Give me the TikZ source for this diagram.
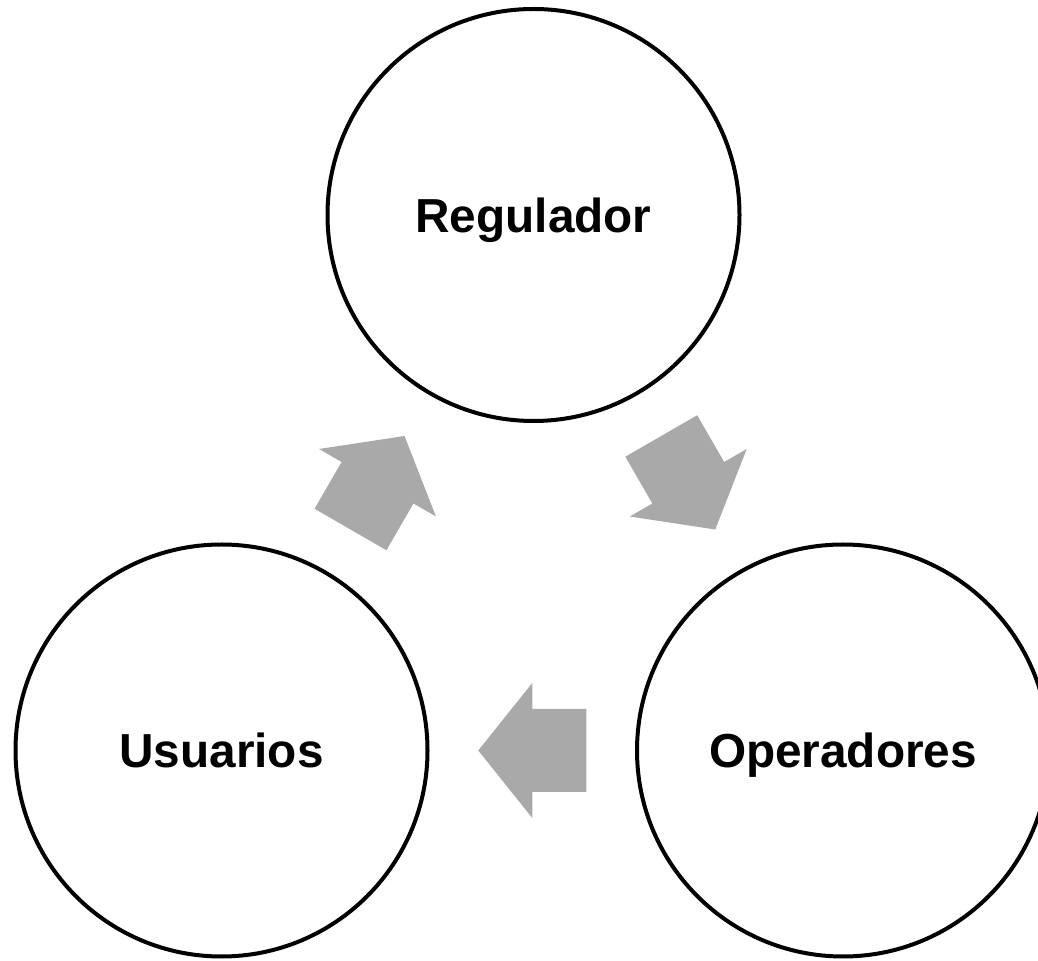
\documentclass[tikz,border=0pt]{standalone}
\usepackage{fontspec}
\setmainfont{Liberation Sans}
\usepackage{tikz}
\usepackage{xcolor}
\usetikzlibrary{calc}
\definecolor{grisflecha}{HTML}{A9A9A9}
\colorlet{bordecirculo}{black}
\tikzstyle{actor} = [
    circle,
    draw=bordecirculo,
    line width=3pt,
    minimum size=309pt,
    inner sep=0pt,
    text depth=0pt,
    font=\fontsize{35.8pt}{43pt}\selectfont\bfseries
    ]
\tikzset{flecha/.pic={% block arrow, pointing along +x
    \fill[grisflecha] (-54,-41.5) -- (0,-41.5) -- (0,-67.5) -- (54,0)
        -- (0,67.5) -- (0,41.5) -- (-54,41.5) -- cycle;
}}
\begin{document}
\begin{tikzpicture}[x=0.75pt,y=0.75pt]
\useasboundingbox (0,0) rectangle (1038,960);
\node [actor] (reg) at (533.5,745) {Regulador};
\node [actor] (usu) at (221.5,209.5) {Usuarios};
\node [actor] (ope) at (843,209.5) {Operadores};
% flechas del ciclo
\pic [rotate=60] at ($(usu)!0.5!(reg)$) {flecha};
\pic [rotate=-60] at ($(reg)!0.5!(ope)$) {flecha};
\pic [rotate=180] at ($(ope)!0.5!(usu)$) {flecha};
\end{tikzpicture}
\end{document}
